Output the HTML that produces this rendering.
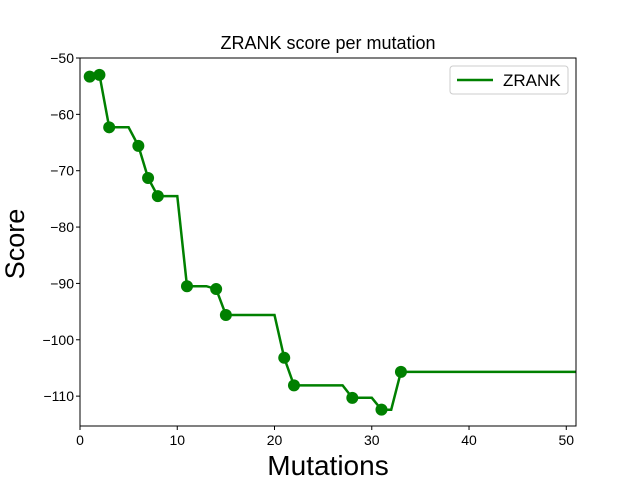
<!DOCTYPE html>
<html><head><meta charset="utf-8">
<style>
html,body{margin:0;padding:0;background:#fff;}
svg text{font-family:"Liberation Sans","DejaVu Sans",sans-serif;fill:#000;}
</style></head>
<body>
<svg id="chart" width="640" height="480" xmlns="http://www.w3.org/2000/svg">
<rect width="640" height="480" fill="#fff"/>
<text x="328" y="49" font-size="18" text-anchor="middle">ZRANK score per mutation</text>
<g id="grid"></g>
<g id="series"></g>
<rect x="80" y="58" width="496" height="368" fill="none" stroke="#000" stroke-width="1"/>
<text x="328" y="475" font-size="28" text-anchor="middle">Mutations</text>
<text transform="translate(24,244) rotate(-90)" font-size="27" text-anchor="middle">Score</text>
<g>
<rect x="450" y="66" width="118" height="28" rx="3" fill="#fff" stroke="#ccc"/>
<line x1="457" y1="80" x2="493" y2="80" stroke="#008000" stroke-width="2.5"/>
<text x="503" y="86" font-size="17">ZRANK</text>
</g>
</svg>
<script>
const xs = [];
for (let i = 1; i <= 51; i++) xs.push(i);
const scores = [-53.3,-53.0,-62.3,-62.3,-62.3,-65.6,-71.3,-74.5,-74.5,-74.5,
 -90.5,-90.5,-90.5,-91.0,-95.6,-95.6,-95.6,-95.6,-95.6,-95.6,
 -103.2,-108.1,-108.1,-108.1,-108.1,-108.1,-108.1,-110.3,-110.3,-110.3,
 -112.4,-112.4,-105.7,-105.7,-105.7,-105.7,-105.7,-105.7,-105.7,-105.7,
 -105.7,-105.7,-105.7,-105.7,-105.7,-105.7,-105.7,-105.7,-105.7,-105.7,-105.7];
const markerXs = [1,2,3,6,7,8,11,14,15,21,22,28,31,33];
const xTicks = [0,10,20,30,40,50];
const yTicks = [-50,-60,-70,-80,-90,-100,-110];
const xMin=0,xMax=51,yMin=-115.3,yMax=-50;
const L=80,R=576,T=58,B=426;
const sx=v=>L+(v-xMin)/(xMax-xMin)*(R-L);
const sy=v=>T+(yMax-v)/(yMax-yMin)*(B-T);
const NS="http://www.w3.org/2000/svg";
const g=document.getElementById('grid');
const s=document.getElementById('series');
function mk(tag,attrs,parent){const e=document.createElementNS(NS,tag);for(const k in attrs)e.setAttribute(k,attrs[k]);parent.appendChild(e);return e;}
xTicks.forEach(t=>{
 const l=mk('line',{x1:sx(t),x2:sx(t),y1:B,y2:B+4,stroke:'#000'},g);
 
 
 const tx=mk('text',{x:sx(t),y:B+19,'font-size':14,'text-anchor':'middle'},g);
 tx.textContent=t;
 
 
});
yTicks.forEach(t=>{
 const l=mk('line',{x1:L-4,x2:L,y1:sy(t),y2:sy(t),stroke:'#000'},g);
 
 
 const tx=mk('text',{x:L-6,y:sy(t)+5,'font-size':14,'text-anchor':'end'},g);
 tx.textContent='\u2212'+Math.abs(t);
 
 
});
const d=xs.map((x,i)=>(i?'L':'M')+sx(x).toFixed(1)+' '+sy(scores[i]).toFixed(1)).join(' ');
const p=mk('path',{d:d,fill:'none',stroke:'#008000','stroke-width':2.5},s);


markerXs.forEach(x=>{
 const c=mk('circle',{cx:sx(x),cy:sy(scores[x-1]),r:6,fill:'#008000'},s);
 
 
});
</script>
</body></html>
